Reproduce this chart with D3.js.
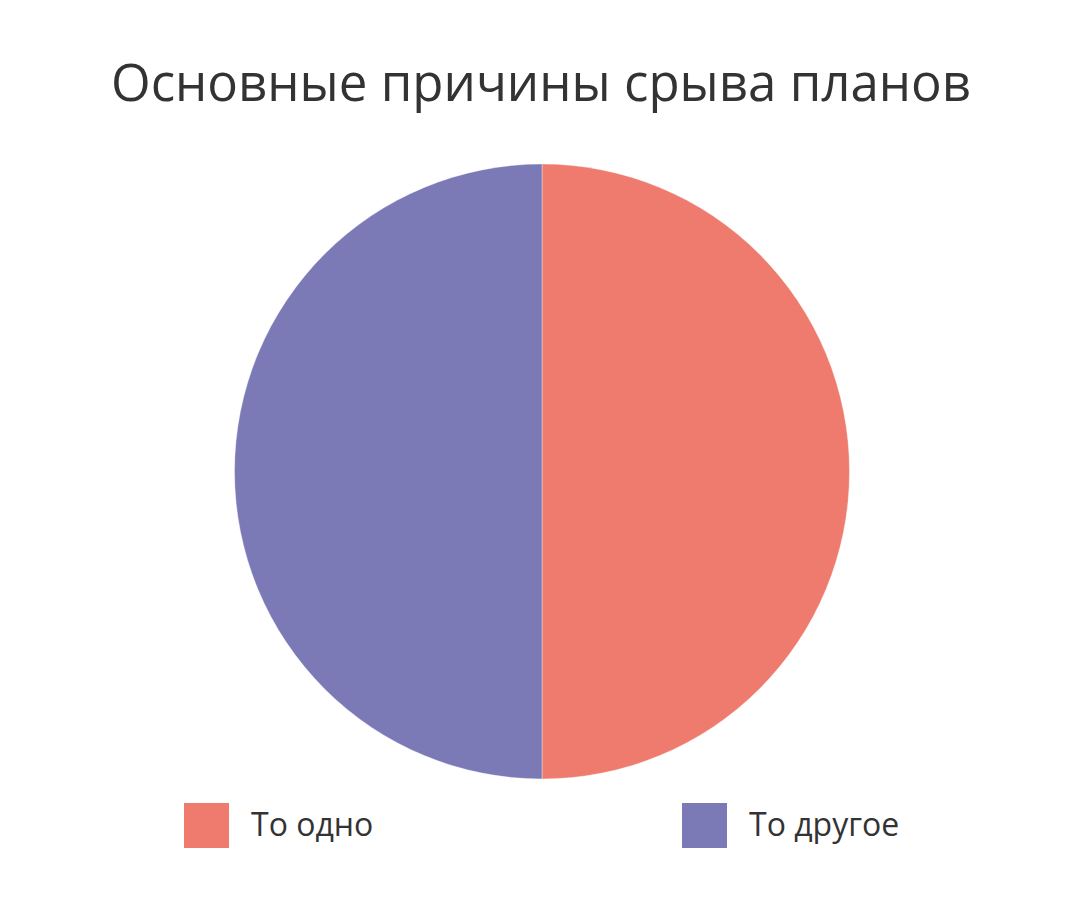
<!DOCTYPE html>
<html><head><meta charset="utf-8">
<script src="https://cdn.jsdelivr.net/npm/d3@7"></script>
<style>html,body{margin:0;padding:0;background:#fff;}</style>
</head><body>
<svg id="c" width="1085" height="914"></svg>
<script>
const title = "Основные причины срыва планов";
const categories = ["То одно", "То другое"];
const values = [50, 50];
const colors = ["#EE7B6D", "#7B7AB7"];

const svg = d3.select("#c");
const cx = 542, cy = 471.5, R = 307.5;

svg.append("text").attr("x", 541).attr("y", 101).attr("text-anchor", "middle")
  .attr("font-family", "Open Sans").attr("font-size", 51).attr("fill", "#333")
  .text(title);

const data = categories.map((c, i) => ({cat: c, v: values[i]}));
const pie = d3.pie().value(d => d.v).sort(null);
const arc = d3.arc().innerRadius(0).outerRadius(R);
const color = d3.scaleOrdinal().domain(categories).range(colors);

svg.append("g").attr("transform", `translate(${cx},${cy})`)
  .selectAll("path").data(pie(data)).join("path")
  .attr("d", arc).attr("fill", d => color(d.data.cat))
  .attr("stroke", "#fff").attr("stroke-width", 0.6).attr("stroke-opacity", 0.6);

const legX = d3.scalePoint().domain(categories).range([184, 682]);
const lg = svg.append("g").selectAll("g").data(categories).join("g")
  .attr("transform", d => `translate(${legX(d)},803)`);
lg.append("rect").attr("width", 45).attr("height", 45).attr("fill", d => color(d));
lg.append("text").attr("x", 67).attr("y", 33)
  .attr("font-family", "Open Sans").attr("font-size", 32).attr("fill", "#333")
  .text(d => d);
</script>
</body></html>
